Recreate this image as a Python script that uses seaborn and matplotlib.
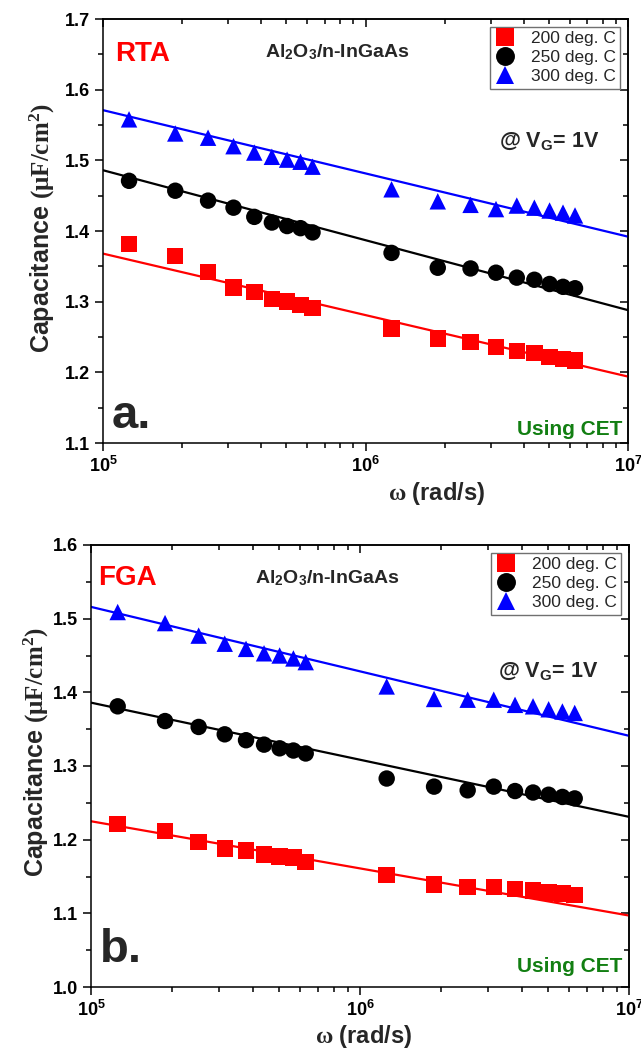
import numpy as np
import pandas as pd
import matplotlib
matplotlib.use("Agg")
import matplotlib.pyplot as plt
from matplotlib.ticker import MultipleLocator, NullFormatter
import seaborn as sns

# ---- data -------------------------------------------------------------
freq_hz = [20e3, 30e3, 40e3, 50e3, 60e3, 70e3, 80e3, 90e3, 100e3,
           200e3, 300e3, 400e3, 500e3, 600e3, 700e3, 800e3, 900e3, 1000e3]
temps = ["200 deg. C", "250 deg. C", "300 deg. C"]

# RTA-annealed samples (uF/cm^2)
rta_200 = [1.382, 1.365, 1.342, 1.320, 1.314, 1.304, 1.300, 1.295, 1.291,
           1.262, 1.248, 1.243, 1.236, 1.230, 1.227, 1.222, 1.219, 1.217]
rta_250 = [1.471, 1.457, 1.443, 1.433, 1.420, 1.412, 1.407, 1.404, 1.398,
           1.369, 1.348, 1.347, 1.341, 1.334, 1.331, 1.325, 1.321, 1.319]
rta_300 = [1.558, 1.538, 1.532, 1.520, 1.511, 1.505, 1.501, 1.498, 1.491,
           1.459, 1.442, 1.437, 1.431, 1.436, 1.433, 1.429, 1.426, 1.422]

# FGA-annealed samples (uF/cm^2)
fga_200 = [1.221, 1.212, 1.197, 1.188, 1.185, 1.180, 1.177, 1.176, 1.170,
           1.152, 1.139, 1.136, 1.136, 1.133, 1.131, 1.128, 1.127, 1.125]
fga_250 = [1.381, 1.361, 1.353, 1.343, 1.335, 1.329, 1.324, 1.321, 1.317,
           1.283, 1.272, 1.267, 1.272, 1.266, 1.264, 1.261, 1.258, 1.256]
fga_300 = [1.509, 1.494, 1.477, 1.466, 1.459, 1.453, 1.450, 1.446, 1.441,
           1.408, 1.391, 1.390, 1.390, 1.383, 1.381, 1.377, 1.374, 1.372]

# linear-in-log(omega) fits, evaluated at omega = 1e5 and 1e7
fit_omega = [1e5, 1e7]
rta_fit = {"200 deg. C": [1.368, 1.194],
           "250 deg. C": [1.486, 1.288],
           "300 deg. C": [1.571, 1.392]}
fga_fit = {"200 deg. C": [1.225, 1.097],
           "250 deg. C": [1.386, 1.231],
           "300 deg. C": [1.516, 1.341]}

omega = 2 * np.pi * np.array(freq_hz)

# ---- style ------------------------------------------------------------
sns.set_theme(style="ticks")
plt.rcParams.update({
    "font.family": ["Liberation Sans", "DejaVu Sans"],
    "font.weight": "bold",
    "axes.labelweight": "bold",
    "mathtext.fontset": "custom",
    "mathtext.rm": "Liberation Serif:bold",
    "mathtext.it": "Liberation Serif:italic:bold",
    "mathtext.bf": "Liberation Serif:bold",
    "mathtext.sf": "Liberation Sans:bold",
    "axes.edgecolor": "black",
    "axes.linewidth": 1.1,
    "xtick.color": "black",
    "ytick.color": "black",
})

palette = {"200 deg. C": "#ff0000", "250 deg. C": "#000000", "300 deg. C": "#0000ff"}
markers = {"200 deg. C": "s", "250 deg. C": "o", "300 deg. C": "^"}

fig = plt.figure(figsize=(6.41, 10.49), dpi=100)
W, H = 641, 1049


def px_axes(x0, x1, ytop, ybot):
    return fig.add_axes([x0 / W, 1 - ybot / H, (x1 - x0) / W, (ybot - ytop) / H])


ax_a = px_axes(103, 628, 19, 443)
ax_b = px_axes(91, 629, 545, 987)


def long_frame(series):
    rows = []
    for t, vals in zip(temps, series):
        for w, c in zip(omega, vals):
            rows.append({"omega": w, "C": c, "anneal": t})
    return pd.DataFrame(rows)


def fit_frame(fits):
    rows = []
    for t in temps:
        for w, c in zip(fit_omega, fits[t]):
            rows.append({"omega": w, "C": c, "anneal": t})
    return pd.DataFrame(rows)


def draw_panel(ax, series, fits, ylim, tag, tag_xy, title_xy, vg_xy, letter,
               letter_xy, cet_xy, xlabel_xy, ylabel_xy):
    ax.set_xscale("log")
    sns.lineplot(data=fit_frame(fits), x="omega", y="C", hue="anneal",
                 palette=palette, linewidth=1.6, legend=False, ax=ax, zorder=2)
    sns.scatterplot(data=long_frame(series), x="omega", y="C", hue="anneal",
                    style="anneal", palette=palette, markers=markers,
                    s=140, linewidth=0, ax=ax, zorder=3)
    ax.set_xlim(1e5, 1e7)
    ax.set_ylim(*ylim)
    ax.yaxis.set_major_locator(MultipleLocator(0.1))
    ax.yaxis.set_minor_locator(MultipleLocator(0.05))
    ax.yaxis.set_major_formatter(plt.FormatStrFormatter("%.1f"))
    ax.tick_params(which="both", direction="out", top=False, right=False,
                   labelsize=13, width=1.1)
    ax.tick_params(which="major", length=6)
    ax.tick_params(which="minor", length=3.5)

    # mirrored inward ticks on top and right
    sec_x = ax.secondary_xaxis("top", functions=(lambda v: v, lambda v: v))
    sec_x.tick_params(which="both", direction="in", width=1.1)
    sec_x.tick_params(which="major", length=6)
    sec_x.tick_params(which="minor", length=3.5)
    sec_x.xaxis.set_major_formatter(NullFormatter())
    sec_x.xaxis.set_minor_formatter(NullFormatter())
    sec_y = ax.secondary_yaxis("right", functions=(lambda v: v, lambda v: v))
    sec_y.yaxis.set_major_locator(MultipleLocator(0.1))
    sec_y.yaxis.set_minor_locator(MultipleLocator(0.05))
    sec_y.tick_params(which="both", direction="in", width=1.1)
    sec_y.tick_params(which="major", length=6)
    sec_y.tick_params(which="minor", length=3.5)
    sec_y.yaxis.set_major_formatter(NullFormatter())

    for s in ax.spines.values():
        s.set_linewidth(1.1)

    ax.set_xlabel(r"$\mathrm{\omega}$ (rad/s)", fontsize=17)
    ax.set_ylabel(r"Capacitance $\mathrm{(\mu F/cm^2)}$", fontsize=18)
    ax.xaxis.set_label_coords(*xlabel_xy)
    ax.yaxis.set_label_coords(*ylabel_xy)

    handles, labels = ax.get_legend_handles_labels()
    leg = ax.legend(handles, labels, loc="upper right", frameon=True,
                    fancybox=False, edgecolor="#707070", framealpha=1,
                    prop={"weight": "normal", "size": 12.5},
                    handletextpad=0.9, borderaxespad=0.45, borderpad=0.25,
                    labelspacing=0.22, handlelength=1.2, markerscale=1.15)
    leg.get_frame().set_linewidth(1.0)

    t = ax.transAxes
    ax.text(*tag_xy, tag, color="#ff0000", fontsize=20, fontweight="bold",
            ha="left", va="baseline", transform=t)
    ax.text(*title_xy, r"Al$_\mathdefault{2}$O$_\mathdefault{3}$/n-InGaAs",
            fontsize=14, fontweight="bold", ha="center", va="baseline",
            transform=t)
    ax.text(*vg_xy, r"@ V$_\mathdefault{G}$= 1V", fontsize=15.5,
            fontweight="bold", ha="center", va="baseline", transform=t)
    ax.text(*letter_xy, letter, fontsize=34, fontweight="bold", ha="left",
            va="baseline", transform=t)
    ax.text(*cet_xy, "Using CET", color="#127f12", fontsize=15,
            fontweight="bold", ha="right", va="baseline", transform=t)


draw_panel(ax_a, [rta_200, rta_250, rta_300], rta_fit, (1.1, 1.7), "RTA",
           (0.023, 0.901), (0.446, 0.910), (0.85, 0.698), "a.",
           (0.017, 0.035), (0.990, 0.019), (0.636, -0.087), (-0.088, 0.507))
draw_panel(ax_b, [fga_200, fga_250, fga_300], fga_fit, (1.0, 1.6), "FGA",
           (0.013, 0.909), (0.439, 0.914), (0.849, 0.701), "b.",
           (0.017, 0.057), (0.987, 0.034), (0.507, -0.082), (-0.074, 0.532))

fig.savefig("out.png", dpi=100)
